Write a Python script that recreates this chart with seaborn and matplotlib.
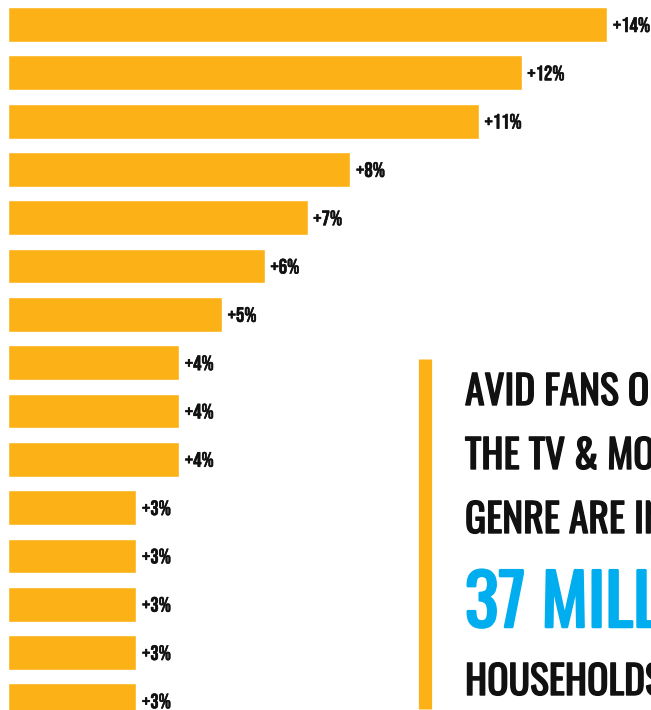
import matplotlib
matplotlib.use("Agg")
import matplotlib.pyplot as plt
import matplotlib.patheffects as pe
import seaborn as sns
import pandas as pd

rank = [str(i) for i in range(1, 16)]
lift = [14, 12, 11, 8, 7, 6, 5, 4, 4, 4, 3, 3, 3, 3, 3]
lift_labels = ["+14%", "+12%", "+11%", "+8%", "+7%", "+6%", "+5%",
               "+4%", "+4%", "+4%", "+3%", "+3%", "+3%", "+3%", "+3%"]

callout_lines = ["AVID FANS OF", "THE TV & MOVIES", "GENRE ARE IN"]
callout_big = "37 MILLION"
callout_last = "HOUSEHOLDS"

bar_color = "#FCB117"
blue = "#00AEEF"
ink = "#111111"

sns.set_theme(style="white")
plt.rcParams["font.family"] = ["Bebas Neue", "Oswald", "DejaVu Sans"]
callout_font = ["Oswald", "Bebas Neue", "DejaVu Sans"]

df = pd.DataFrame({"rank": rank, "lift": lift})

fig = plt.figure(figsize=(6.51, 7.1), dpi=100)
ax = fig.add_axes([0, 0, 1, 1])

sns.barplot(data=df, x="lift", y="rank", orient="h", color=bar_color,
            saturation=1, width=0.72, ax=ax)

ax.bar_label(ax.containers[0], labels=lift_labels, padding=4,
             fontsize=15, color=ink,
             path_effects=[pe.withStroke(linewidth=0.4, foreground=ink)])

ax.set_xlim(-0.187, 15.02)
ax.set_ylim(14.19, -0.507)
ax.set_axis_off()

# callout on the right
fig.add_artist(plt.Line2D([424.5 / 651, 424.5 / 651], [1 - 359 / 710, 1 - 709 / 710],
                          color=bar_color, linewidth=9.5, solid_capstyle="butt"))

x0 = 465 / 651
baselines = [405, 469, 533]
for b, line in zip(baselines, callout_lines):
    fig.text(x0, 1 - b / 710, line, fontsize=28.5, family=callout_font,
             color=ink, va="baseline", ha="left",
             path_effects=[pe.withStroke(linewidth=1.0, foreground=ink)])
fig.text(x0, 1 - 627 / 710, callout_big, fontsize=50.5, family=callout_font,
         color=blue, va="baseline", ha="left",
         path_effects=[pe.withStroke(linewidth=1.8, foreground=blue)])
fig.text(x0, 1 - 695 / 710, callout_last, fontsize=28.5, family=callout_font,
         color=ink, va="baseline", ha="left",
         path_effects=[pe.withStroke(linewidth=1.0, foreground=ink)])

fig.savefig("out.png", dpi=100)
